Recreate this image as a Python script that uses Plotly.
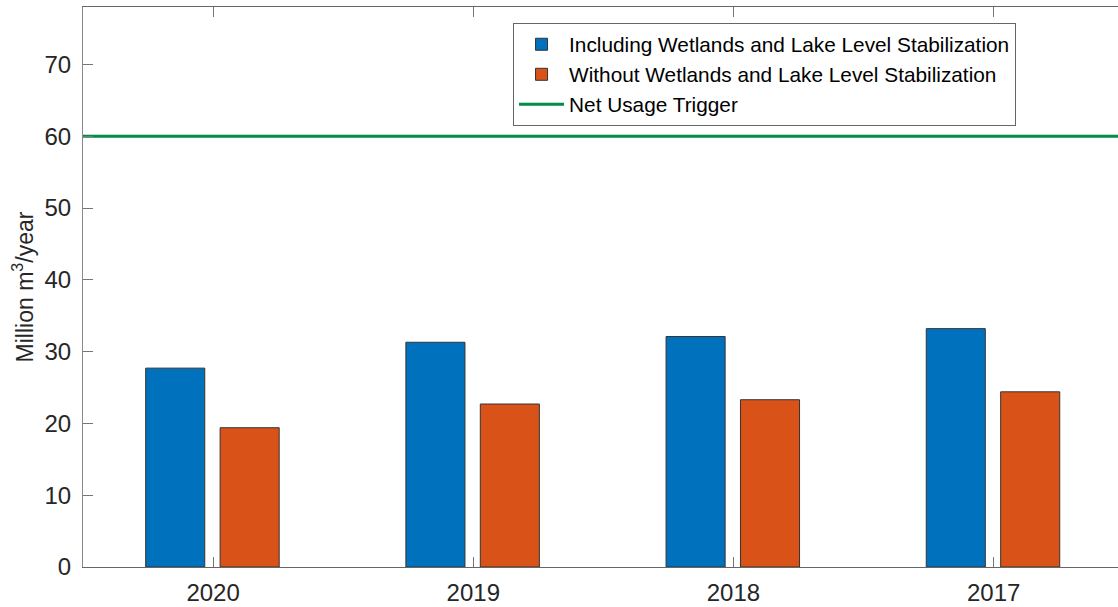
import plotly.graph_objects as go

years = ["2020", "2019", "2018", "2017"]
x_pos = [1, 2, 3, 4]
including = [27.7, 31.3, 32.1, 33.2]
without = [19.4, 22.7, 23.3, 24.4]
trigger = 60
series_names = ["Including Wetlands and Lake Level Stabilization",
                "Without Wetlands and Lake Level Stabilization",
                "Net Usage Trigger"]
y_ticks = [0, 10, 20, 30, 40, 50, 60, 70]

fig = go.Figure()
fig.add_trace(go.Bar(x=x_pos, y=including, name=series_names[0],
                     width=0.227, offset=-0.259,
                     marker=dict(color="#0072BD", line=dict(color="#333333", width=1))))
fig.add_trace(go.Bar(x=x_pos, y=without, name=series_names[1],
                     width=0.227, offset=0.027,
                     marker=dict(color="#D95319", line=dict(color="#333333", width=1))))
fig.add_trace(go.Scatter(x=[0.5, 4.5], y=[trigger, trigger], mode="lines",
                         name=series_names[2],
                         line=dict(color="#008C45", width=3)))

fig.update_layout(
    width=1118, height=607,
    margin=dict(l=83, r=0, t=7, b=40),
    plot_bgcolor="white", paper_bgcolor="white",
    font=dict(family="Liberation Sans, Arial, sans-serif", color="#262626"),
    barmode="overlay",
    showlegend=True,
    legend=dict(x=0.4155, y=0.971, xanchor="left", yanchor="top",
                bgcolor="white", bordercolor="#666666", borderwidth=1,
                font=dict(size=20.8, color="#000000"),
                tracegroupgap=0, itemwidth=45),
)
fig.update_xaxes(range=[0.5, 4.478], tickmode="array", tickvals=x_pos, ticktext=years,
                 showline=True, linecolor="#666666", linewidth=1, mirror="ticks",
                 ticks="inside", ticklen=10, tickcolor="#777777",
                 showgrid=False, zeroline=False,
                 tickfont=dict(size=24, color="#262626"), ticklabelstandoff=4)
fig.update_yaxes(range=[0, 78], tickmode="array", tickvals=y_ticks,
                 showline=True, linecolor="#888888", linewidth=1, mirror=False,
                 ticks="inside", ticklen=10, tickcolor="#777777",
                 showgrid=False, zeroline=False,
                 tickfont=dict(size=24, color="#262626"), ticklabelstandoff=6,
                 title=dict(text="Million m<sup>3</sup>/year", standoff=4,
                            font=dict(size=23, color="#262626")))

fig.write_html("out.html")
